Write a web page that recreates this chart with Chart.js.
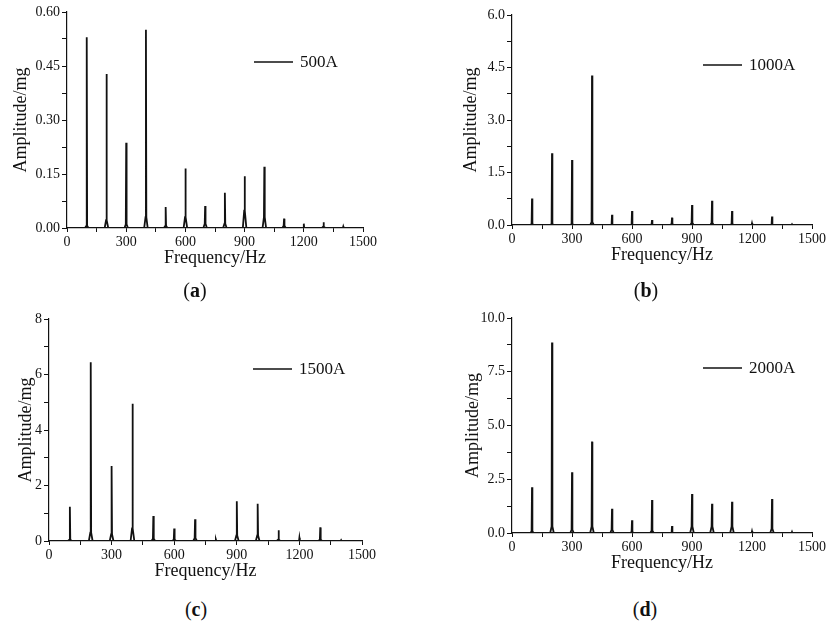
<!DOCTYPE html>
<html>
<head>
<meta charset="utf-8">
<script src="https://cdn.jsdelivr.net/npm/chart.js@4"></script>
<style>
  body { margin: 0; background: #fff; }
  #page { position: relative; width: 837px; height: 624px; overflow: hidden; }
  canvas { position: absolute; }
  .cap { position: absolute; font-family: "Liberation Serif", serif; font-size: 20px; color: #111; transform: translateX(-50%); }
</style>
</head>
<body>
<div id="page">
  <canvas id="chartA" width="400" height="276" style="left:0;top:0"></canvas>
  <canvas id="chartB" width="417" height="273" style="left:420px;top:0"></canvas>
  <canvas id="chartC" width="400" height="289" style="left:0;top:300px"></canvas>
  <canvas id="chartD" width="417" height="281" style="left:420px;top:300px"></canvas>
  <div class="cap" style="left:195px;top:279px">(<b>a</b>)</div>
  <div class="cap" style="left:646px;top:279px">(<b>b</b>)</div>
  <div class="cap" style="left:196px;top:598px">(<b>c</b>)</div>
  <div class="cap" style="left:645px;top:598px">(<b>d</b>)</div>
</div>
<script>
// harmonic lines of the vibration spectrum, one amplitude per harmonic
const harmonicsHz = [100, 200, 300, 400, 500, 600, 700, 800, 900, 1000, 1100, 1200, 1300, 1400];

const amp500A   = [0.530, 0.428, 0.237, 0.551, 0.058, 0.165, 0.061, 0.098, 0.144, 0.170, 0.026, 0.012, 0.016, 0.004];
const skirt500A = [0.006, 0.022, 0.010, 0.030, 0.006, 0.030, 0.012, 0.012, 0.048, 0.030, 0.006, 0.000, 0.004, 0.000];

const amp1000A   = [0.76, 2.05, 1.86, 4.27, 0.29, 0.40, 0.14, 0.21, 0.57, 0.69, 0.40, 0.05, 0.24, 0.02];
const skirt1000A = [0.03, 0.03, 0.03, 0.08, 0.02, 0.02, 0.02, 0.03, 0.06, 0.06, 0.03, 0.00, 0.02, 0.00];

const amp1500A   = [1.23, 6.44, 2.70, 4.95, 0.90, 0.45, 0.78, 0.05, 1.43, 1.34, 0.39, 0.12, 0.49, 0.03];
const skirt1500A = [0.05, 0.30, 0.25, 0.45, 0.08, 0.05, 0.10, 0.00, 0.20, 0.20, 0.05, 0.00, 0.05, 0.00];

const amp2000A   = [2.13, 8.86, 2.83, 4.25, 1.13, 0.59, 1.53, 0.32, 1.81, 1.36, 1.45, 0.08, 1.58, 0.05];
const skirt2000A = [0.08, 0.30, 0.15, 0.30, 0.15, 0.05, 0.10, 0.00, 0.30, 0.30, 0.30, 0.00, 0.20, 0.00];

const freqTicks = [0, 300, 600, 900, 1200, 1500];
const noiseFloorHz = [40, 1460];

const SERIF = '"Liberation Serif", "Times New Roman", serif';
const INK = '#111';

// turn the harmonic list into a line trace: baseline, small skirt, sharp peak
function spectrum(amps, skirts) {
  const pts = [{ x: noiseFloorHz[0], y: 0 }];
  harmonicsHz.forEach((f, i) => {
    pts.push({ x: f - 9, y: 0 });
    pts.push({ x: f - 2, y: skirts[i] });
    pts.push({ x: f, y: amps[i] });
    pts.push({ x: f + 2, y: skirts[i] });
    pts.push({ x: f + 9, y: 0 });
  });
  pts.push({ x: noiseFloorHz[1], y: 0 });
  return pts;
}

// legend line + label inside the plot, top right
const lineLegend = {
  id: 'lineLegend',
  afterDraw(chart) {
    const { ctx, chartArea } = chart;
    const ds = chart.data.datasets[0];
    const x0 = chartArea.right - 109;
    const y0 = chartArea.top + 50;
    ctx.save();
    ctx.strokeStyle = INK;
    ctx.lineWidth = 1.5;
    ctx.beginPath();
    ctx.moveTo(x0, y0);
    ctx.lineTo(x0 + 39, y0);
    ctx.stroke();
    ctx.fillStyle = INK;
    ctx.font = '17px ' + SERIF;
    ctx.textBaseline = 'middle';
    ctx.fillText(ds.label, x0 + 46, y0 + 1);
    ctx.restore();
  }
};

function isMajor(v, step) {
  const r = v / step;
  return Math.abs(r - Math.round(r)) < 1e-6;
}

function makeSpectrum(id, label, amps, skirts, yMax, yMajor, decimals, axisW, titlePad, pad) {
  const axisFont = { family: SERIF, size: 14, lineHeight: 1.2 };
  new Chart(document.getElementById(id), {
    type: 'line',
    data: {
      datasets: [{
        label: label,
        data: spectrum(amps, skirts),
        borderColor: INK,
        borderWidth: 1.8,
        pointRadius: 0,
        tension: 0,
        fill: false
      }]
    },
    options: {
      responsive: false,
      animation: false,
      layout: { padding: { top: pad.top, right: pad.right, bottom: 0, left: 0 } },
      plugins: { legend: { display: false }, tooltip: { enabled: false } },
      scales: {
        x: {
          type: 'linear',
          min: 0,
          max: 1500,
          afterFit(s) { s.height = 48; },
          border: { display: true, color: INK, width: 1.2 },
          grid: { drawOnChartArea: false, drawTicks: true, tickLength: 4, tickColor: INK },
          ticks: {
            stepSize: 150,
            autoSkip: false,
            maxRotation: 0,
            padding: 2,
            color: INK,
            font: axisFont,
            callback: v => freqTicks.includes(v) ? String(v) : ''
          },
          title: {
            display: true,
            text: 'Frequency/Hz',
            color: INK,
            font: { family: SERIF, size: 18, lineHeight: 1.2 },
            padding: { top: 0, bottom: 7 }
          }
        },
        y: {
          min: 0,
          max: yMax,
          afterFit(s) { s.width = axisW; },
          border: { display: true, color: INK, width: 1.2 },
          grid: { drawOnChartArea: false, drawTicks: true, tickLength: 5, tickColor: INK },
          ticks: {
            stepSize: yMajor / 2,
            autoSkip: false,
            padding: 2,
            color: INK,
            font: axisFont,
            callback: v => isMajor(v, yMajor) ? Number(v).toFixed(decimals) : ''
          },
          title: {
            display: true,
            text: 'Amplitude/mg',
            color: INK,
            font: { family: SERIF, size: 18, lineHeight: 1.2 },
            padding: { top: titlePad, bottom: 0 }
          }
        }
      }
    },
    plugins: [lineLegend]
  });
}

makeSpectrum('chartA', '500A',  amp500A,  skirt500A,  0.60, 0.15, 2, 67, 10, { top: 12, right: 37 });
makeSpectrum('chartB', '1000A', amp1000A, skirt1000A, 6.0,  1.5,  1, 92, 40, { top: 15, right: 25 });
makeSpectrum('chartC', '1500A', amp1500A, skirt1500A, 8,    2,    0, 49, 15, { top: 19, right: 38 });
makeSpectrum('chartD', '2000A', amp2000A, skirt2000A, 10.0, 2.5,  1, 92, 42, { top: 18, right: 25 });
</script>
</body>
</html>
